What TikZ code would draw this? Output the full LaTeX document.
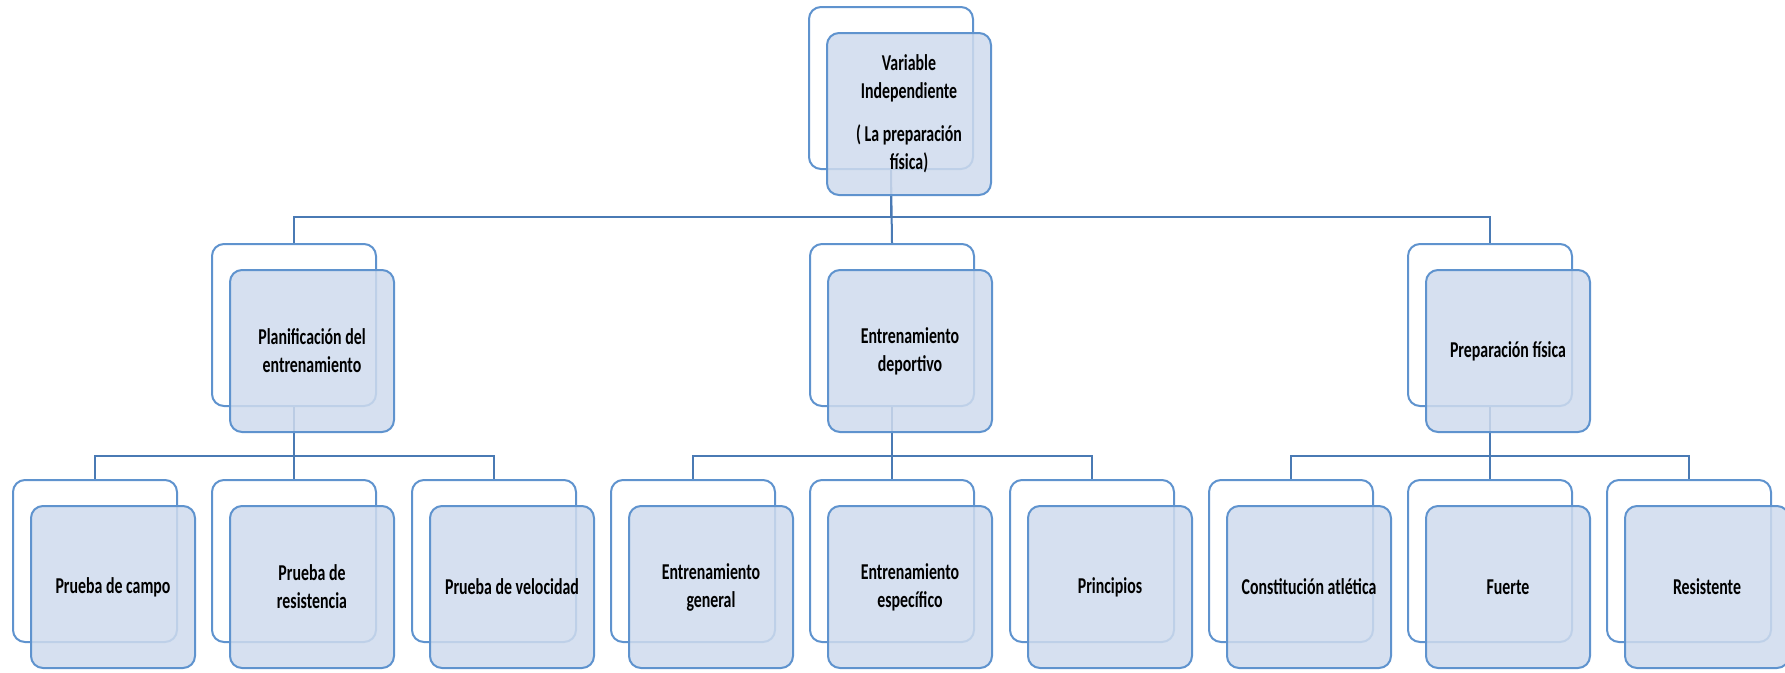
\documentclass[tikz,border=0pt]{standalone}
\usepackage{fontspec}
\setmainfont{Carlito}[FakeStretch=0.7]
\usetikzlibrary{calc}
\definecolor{boxline}{RGB}{95,147,206}
\definecolor{boxfill}{RGB}{207,219,237}
\definecolor{linkline}{RGB}{74,122,180}
\pgfdeclarelayer{links}
\pgfsetlayers{links,main}
% two stacked boxes: name, left x, top y, text
\newcommand\dualbox[4]{%
  \node[backbox] (#1-b) at (#2+82, #3+81) {};
  \node[frontbox] (#1) at ($(#1-b)+(18,26)$) {#4};
}

\begin{document}
\begin{tikzpicture}[x=0.75pt, y=-0.75pt,
    backbox/.style={draw=boxline, line width=1.5pt, rounded corners=9pt,
      minimum width=123pt, minimum height=121.5pt, inner sep=0pt},
    frontbox/.style={backbox, fill=boxfill, fill opacity=0.85, text opacity=1,
      align=center, font=\fontsize{17}{21}\selectfont\bfseries},
    link/.style={draw=linkline, line width=1.5pt}]
			%%%%% START %%%%%
			\useasboundingbox (0, 0) rectangle (1785, 672);
			
			\dualbox{vind}{809}{7}{Variable\\Independiente\\[11pt]( La preparación\\física)}
			
			\dualbox{plan}{212}{244}{Planificación del\\entrenamiento}
			\dualbox{dep}{810}{244}{Entrenamiento\\deportivo}
			\dualbox{prep}{1408}{244}{Preparación física}
			
			\dualbox{campo}{13}{480}{Prueba de campo}
			\dualbox{resis}{212}{480}{Prueba de\\resistencia}
			\dualbox{veloc}{412}{480}{Prueba de velocidad}
			\dualbox{gen}{611}{480}{Entrenamiento\\general}
			\dualbox{espec}{810}{480}{Entrenamiento\\específico}
			\dualbox{princ}{1010}{480}{Principios}
			\dualbox{atlet}{1209}{480}{Constitución atlética}
			\dualbox{fuerte}{1408}{480}{Fuerte}
			\dualbox{resist}{1607}{480}{Resistente}
			
			\begin{pgfonlayer}{links}
			\draw[link] (vind-b.south) -- ++(0, 47) -| (plan-b.north);
			\draw[link] (vind-b.south) -- (dep-b.north);
			\draw[link] (vind-b.south) -- ++(0, 47) -| (prep-b.north);
			
			\draw[link] (plan-b.south) -- ++(0, 49) -| (campo-b.north);
			\draw[link] (plan-b.south) -- (resis-b.north);
			\draw[link] (plan-b.south) -- ++(0, 49) -| (veloc-b.north);
			
			\draw[link] (dep-b.south) -- ++(0, 49) -| (gen-b.north);
			\draw[link] (dep-b.south) -- (espec-b.north);
			\draw[link] (dep-b.south) -- ++(0, 49) -| (princ-b.north);
			
			\draw[link] (prep-b.south) -- ++(0, 49) -| (atlet-b.north);
			\draw[link] (prep-b.south) -- (fuerte-b.north);
			\draw[link] (prep-b.south) -- ++(0, 49) -| (resist-b.north);
			\end{pgfonlayer}
			
			%%%%% END %%%%%
\end{tikzpicture}
\end{document}
